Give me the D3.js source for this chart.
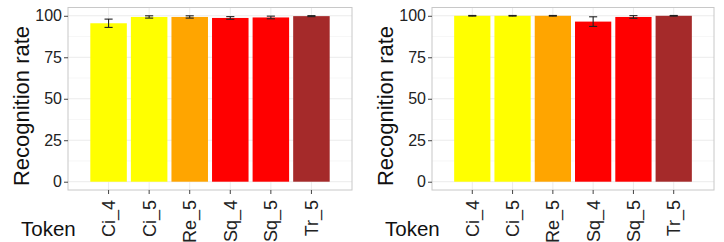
<!DOCTYPE html>
<html>
<head>
<meta charset="utf-8">
<script src="https://cdn.jsdelivr.net/npm/d3@7"></script>
<style>
  body { margin: 0; background: #fff; }
  svg { display: block; font-family: "Liberation Sans", Arial, sans-serif; }
</style>
</head>
<body>
<svg id="chart" width="724" height="242"></svg>
<script>
// Data
const tokens = ['Ci_4', 'Ci_5', 'Re_5', 'Sq_4', 'Sq_5', 'Tr_5'];
const colors = ['#FFFF00', '#FFFF00', '#FFA500', '#FF0000', '#FF0000', '#A52A2A'];
const leftRates = [95.5, 99.3, 99.3, 98.7, 99.0, 99.8];
const leftErrors = [2.5, 0.7, 0.7, 0.8, 0.8, 0.3];
const rightRates = [100, 100, 100, 96.5, 99.3, 100];
const rightErrors = [0.2, 0.2, 0.2, 2.9, 0.8, 0.2];
const yTicks = [0, 25, 50, 75, 100];

const svg = d3.select('#chart');

function drawPanel(left, right, rates, errors, titleX) {
  const top = 7.5, bottom = 190;
  const g = svg.append('g');

  const x = d3.scaleBand()
    .domain(tokens)
    .range([left, right])
    .paddingInner(0.1)
    .paddingOuter(0.55);

  const y = d3.scaleLinear()
    .domain([-5, 105])
    .range([bottom, top]);

  // grid: minor first, then major
  const minor = d3.range(12.5, 100, 25);
  g.selectAll('.minor').data(minor).enter().append('line')
    .attr('x1', left).attr('x2', right)
    .attr('y1', d => y(d)).attr('y2', d => y(d))
    .attr('stroke', '#f2f2f2').attr('stroke-width', 0.6);
  g.selectAll('.major').data(yTicks).enter().append('line')
    .attr('x1', left).attr('x2', right)
    .attr('y1', d => y(d)).attr('y2', d => y(d))
    .attr('stroke', '#ebebeb').attr('stroke-width', 1);
  g.selectAll('.vmajor').data(tokens).enter().append('line')
    .attr('x1', d => x(d) + x.bandwidth() / 2).attr('x2', d => x(d) + x.bandwidth() / 2)
    .attr('y1', top).attr('y2', bottom)
    .attr('stroke', '#ebebeb').attr('stroke-width', 1);

  // bars
  g.selectAll('.bar').data(tokens).enter().append('rect')
    .attr('x', d => x(d))
    .attr('width', x.bandwidth())
    .attr('y', (d, i) => y(rates[i]))
    .attr('height', (d, i) => y(0) - y(rates[i]))
    .attr('fill', (d, i) => colors[i]);

  // error bars
  const capW = x.step() * 0.1;
  const hi = i => y(Math.min(rates[i] + errors[i], 100.5));
  const lo = i => y(rates[i] - errors[i]);
  const cx = d => x(d) + x.bandwidth() / 2;
  const eb = g.selectAll('.err').data(tokens).enter().append('g')
    .attr('stroke', '#222').attr('stroke-width', 1.1);
  eb.append('line')
    .attr('x1', cx).attr('x2', cx)
    .attr('y1', (d, i) => lo(i)).attr('y2', (d, i) => hi(i));
  eb.append('line')
    .attr('x1', d => cx(d) - capW).attr('x2', d => cx(d) + capW)
    .attr('y1', (d, i) => hi(i)).attr('y2', (d, i) => hi(i));
  eb.append('line')
    .attr('x1', d => cx(d) - capW).attr('x2', d => cx(d) + capW)
    .attr('y1', (d, i) => lo(i)).attr('y2', (d, i) => lo(i));

  // panel border
  g.append('rect')
    .attr('x', left).attr('y', top)
    .attr('width', right - left).attr('height', bottom - top)
    .attr('fill', 'none').attr('stroke', '#c8c8c8').attr('stroke-width', 1);

  // y axis
  const yAxis = g.append('g')
    .attr('transform', 'translate(' + left + ',0)')
    .call(d3.axisLeft(y).tickValues(yTicks).tickSize(4).tickPadding(2));
  yAxis.select('.domain').remove();
  yAxis.selectAll('line').attr('stroke', '#444');
  yAxis.selectAll('text').attr('font-size', 16).attr('fill', '#222')
    .attr('font-family', '"Liberation Sans", Arial, sans-serif');

  // x axis
  const xAxis = g.append('g')
    .attr('transform', 'translate(0,' + bottom + ')')
    .call(d3.axisBottom(x).tickSize(4));
  xAxis.select('.domain').remove();
  xAxis.selectAll('line').attr('stroke', '#444');
  xAxis.selectAll('text')
    .attr('font-size', 18).attr('fill', '#222')
    .attr('font-family', '"Liberation Sans", Arial, sans-serif')
    .attr('transform', 'rotate(-90)')
    .attr('text-anchor', 'end')
    .attr('x', -10).attr('y', 0).attr('dy', '0.36em');

  // titles
  g.append('text')
    .attr('transform', 'translate(' + titleX + ',106) rotate(-90)')
    .attr('text-anchor', 'middle')
    .attr('font-size', 22).attr('fill', '#111')
    .text('Recognition rate');
  g.append('text')
    .attr('x', left - 47).attr('y', 236)
    .attr('font-size', 20.5).attr('fill', '#111')
    .text('Token');
}

drawPanel(68, 352, leftRates, leftErrors, 29);
drawPanel(432, 714, rightRates, rightErrors, 393);
</script>
</body>
</html>
